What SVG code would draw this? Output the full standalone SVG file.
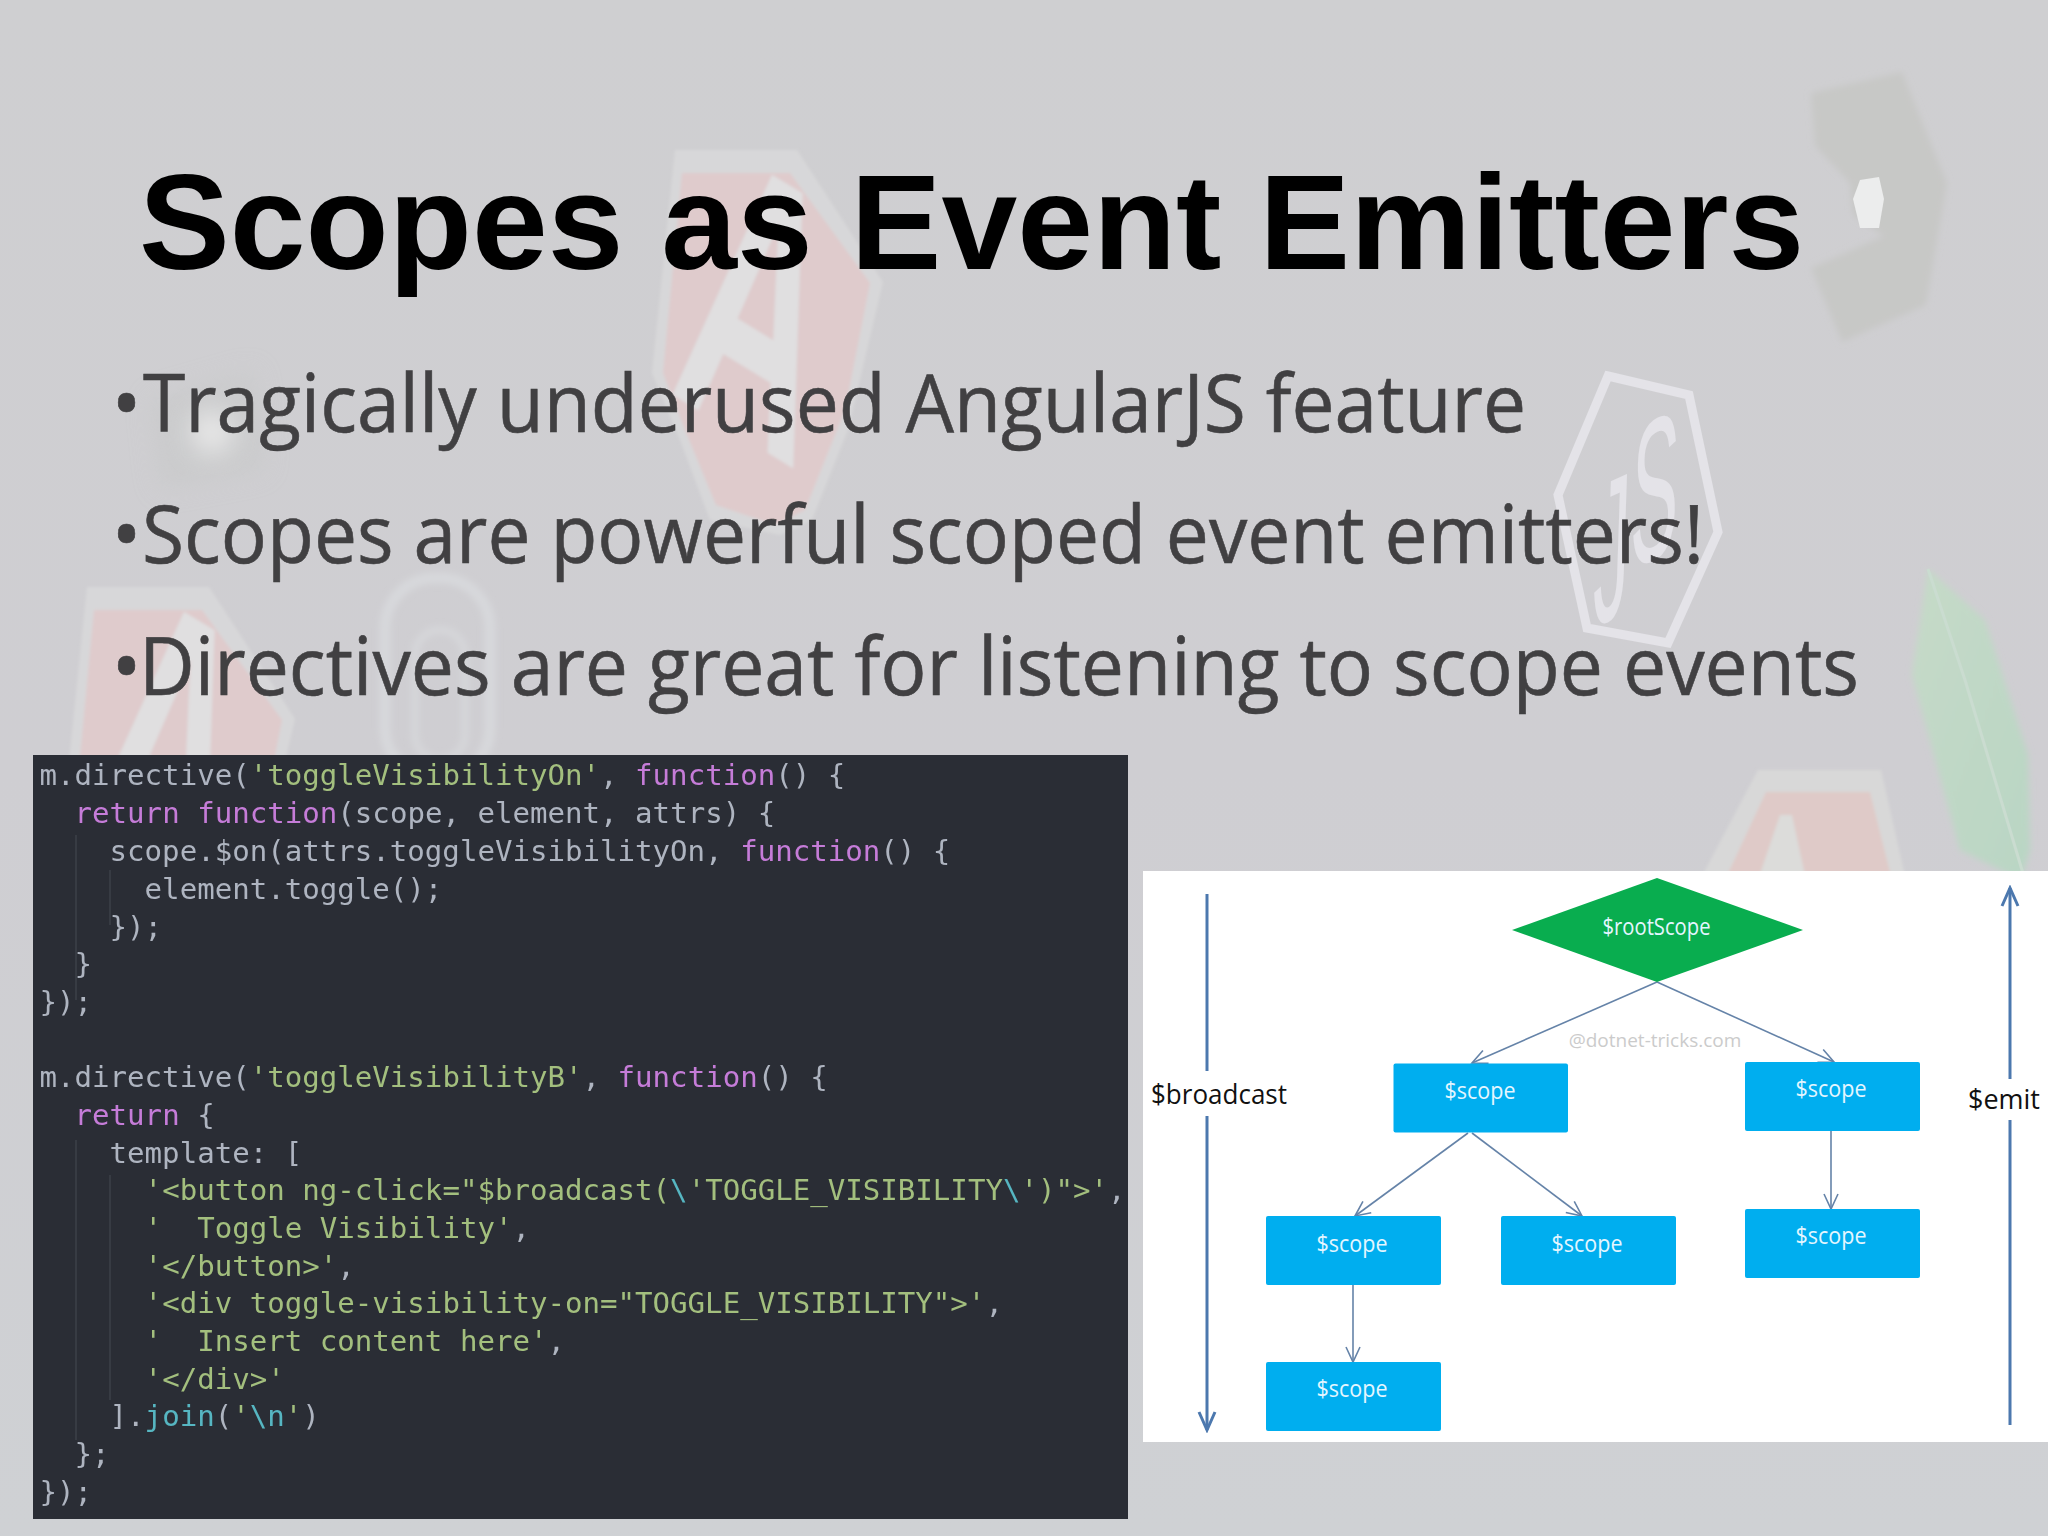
<svg xmlns="http://www.w3.org/2000/svg" width="2048" height="1536" viewBox="0 0 2048 1536">
<style>
.title{font:bold 136.2px "Liberation Sans",Arial,sans-serif;fill:#000}
.bul{font:80px "Open Sans","Noto Sans",sans-serif;fill:#414042;stroke:#414042;stroke-width:.6}
.code{font:29.1px "DejaVu Sans Mono",monospace;fill:#aeb4c0;white-space:pre}
.s{fill:#a3bf7e}.k{fill:#c57bd8}.f{fill:#56b6c2}
.guide{stroke:#3c4049;stroke-width:1.5}
.box{fill:#00aeef}
.lbl{font:23px "Open Sans","Noto Sans",sans-serif;fill:#e4f6ff;text-anchor:middle}
.side{font:27px "Open Sans","Noto Sans",sans-serif;fill:#111}
.thick{stroke:#4c78ae;stroke-width:3;fill:none}
.thin{stroke:#6583a8;stroke-width:1.6;fill:none}
.logo{font:bold 100px "Liberation Sans",Arial,sans-serif}
</style>
<defs>
<linearGradient id="bg" x1="0" y1="0" x2="0" y2="1"><stop offset="0" stop-color="#cfcfd1"/><stop offset=".5" stop-color="#cfced2"/><stop offset="1" stop-color="#cfd1d4"/></linearGradient>
<linearGradient id="leaf" x1="0" y1="0" x2="1" y2="1"><stop offset="0" stop-color="#c6dac8"/><stop offset="1" stop-color="#b9d6c4"/></linearGradient>
<filter id="b1" x="-5%" y="-5%" width="110%" height="110%"><feGaussianBlur stdDeviation="0.6"/></filter>
<filter id="b2" x="-10%" y="-10%" width="120%" height="120%"><feGaussianBlur stdDeviation="1.8"/></filter>
<filter id="b3" x="-20%" y="-20%" width="140%" height="140%"><feGaussianBlur stdDeviation="3"/></filter>
<filter id="b12" x="-50%" y="-50%" width="200%" height="200%"><feGaussianBlur stdDeviation="12"/></filter>
<marker id="vs" markerUnits="userSpaceOnUse" viewBox="0 0 20 20" refX="18" refY="10" markerWidth="20" markerHeight="20" orient="auto"><path d="M3 3L18 10L3 17" fill="none" stroke="#6583a8" stroke-width="1.6"/></marker>
<marker id="vb" markerUnits="userSpaceOnUse" viewBox="0 0 24 24" refX="21" refY="12" markerWidth="24" markerHeight="24" orient="auto"><path d="M3 4L21 12L3 20" fill="none" stroke="#4c78ae" stroke-width="3"/></marker>
<g id="shield" filter="url(#b2)">
<polygon points="675,150 797,150 883,282 848,430 812,520 780,535 710,520 680,440 652,373" fill="#d9d9db" opacity=".8"/>
<polygon points="682,173 790,173 870,283 845,410 805,510 775,525 716,505 685,430 663,373" fill="#dfcbcc"/>
<text class="logo" transform="matrix(1.8 1.1 -.79 3.6 668 392)" fill="#e0dfe0">A</text>
</g>
<clipPath id="above"><rect x="0" y="0" width="2048" height="755"/></clipPath>
<clipPath id="above2"><rect x="1143" y="0" width="905" height="871"/></clipPath>
</defs>

<g id="background">
<rect width="2048" height="1536" fill="url(#bg)"/>
<use href="#shield"/>
<g clip-path="url(#above)"><use href="#shield" x="-588" y="437"/></g>
<g clip-path="url(#above2)">
<g filter="url(#b2)">
<polygon points="1758,770 1881,770 1906,880 1700,880" fill="#d8d8d8"/>
<polygon points="1766,792 1870,792 1892,880 1725,880" fill="#dfcac8"/>
<polygon points="1780,815 1792,815 1806,880 1758,880" fill="#dcdcda"/>
</g>
<polygon points="1928,569 1985,620 2028,755 2030,850 2021,880 1960,850 1912,675" fill="url(#leaf)" filter="url(#b3)"/>
<path d="M1928,569L1965,680L2025,880" stroke="#cadcd0" stroke-width="3" fill="none" filter="url(#b1)"/>
</g>
<polygon points="1811,93 1902,72 1947,183 1926,305 1842,342 1811,268 1884,236 1853,215 1850,183 1815,146" fill="#c7c8c6" filter="url(#b3)"/>
<polygon points="1853,199 1860,180 1879,177 1884,199 1879,228 1860,228" fill="#eceded" filter="url(#b1)"/>
<g filter="url(#b1)">
<polygon points="1608,376 1689,395 1718,532 1668,643 1587,628 1558,495" fill="none" stroke="#e4e3e8" stroke-width="9"/>
<text transform="matrix(.65 -.3 -.06 1.85 1592 628)" style="font:110px 'Liberation Sans',Arial,sans-serif" fill="#e4e3e8">J<tspan dy="-22">S</tspan></text>
</g>
<g clip-path="url(#above)" filter="url(#b3)">
<rect x="385" y="578" width="105" height="200" rx="50" fill="none" stroke="#d7d8db" stroke-width="11"/>
<rect x="415" y="630" width="50" height="130" rx="25" fill="none" stroke="#d5d6d9" stroke-width="8"/>
</g>
<polygon points="150,400 255,370 265,470 160,490" fill="#c8c9c9" opacity=".6" filter="url(#b12)"/>
<ellipse cx="212" cy="432" rx="22" ry="22" fill="#e6e6e6" filter="url(#b12)"/>
</g>

<g id="title"><text class="title" x="139" y="269">Scopes as Event Emitters</text></g>
<g id="bullets">
<text class="bul" x="111.500" y="432">•</text><text class="bul" x="143" y="432" textLength="1383" lengthAdjust="spacingAndGlyphs">Tragically underused AngularJS feature</text>
<text class="bul" x="111.500" y="563">•</text><text class="bul" x="142" y="563" textLength="1562" lengthAdjust="spacingAndGlyphs">Scopes are powerful scoped event emitters!</text>
<text class="bul" x="111.500" y="695">•</text><text class="bul" x="139" y="695" textLength="1720" lengthAdjust="spacingAndGlyphs">Directives are great for listening to scope events</text>
</g>

<g id="code-panel">
<rect x="33" y="755" width="1095" height="764" fill="#2a2d35"/>
<g id="code-guides">
<line class="guide" x1="76" y1="835" x2="76" y2="1000"/>
<line class="guide" x1="110" y1="870" x2="110" y2="925"/>
<line class="guide" x1="76" y1="1140" x2="76" y2="1440"/>
<line class="guide" x1="110" y1="1175" x2="110" y2="1400"/>
</g>
<g filter="url(#b1)">
<text class="code" x="39.500" y="785">m.directive(<tspan class="s">'toggleVisibilityOn'</tspan>, <tspan class="k">function</tspan>() {</text>
<text class="code" x="39.500" y="823">  <tspan class="k">return</tspan> <tspan class="k">function</tspan>(scope, element, attrs) {</text>
<text class="code" x="39.500" y="861">    scope.$on(attrs.toggleVisibilityOn, <tspan class="k">function</tspan>() {</text>
<text class="code" x="39.500" y="899">      element.toggle();</text>
<text class="code" x="39.500" y="936.500">    });</text>
<text class="code" x="39.500" y="974">  }</text>
<text class="code" x="39.500" y="1012">});</text>
<text class="code" x="39.500" y="1087">m.directive(<tspan class="s">'toggleVisibilityB'</tspan>, <tspan class="k">function</tspan>() {</text>
<text class="code" x="39.500" y="1125">  <tspan class="k">return</tspan> {</text>
<text class="code" x="39.500" y="1163">    template: [</text>
<text class="code" x="39.500" y="1200">      <tspan class="s">'&lt;button ng-click="$broadcast(</tspan><tspan class="f">\</tspan><tspan class="s">'TOGGLE_VISIBILITY</tspan><tspan class="f">\</tspan><tspan class="s">')"&gt;'</tspan>,</text>
<text class="code" x="39.500" y="1238">      <tspan class="s">'  Toggle Visibility'</tspan>,</text>
<text class="code" x="39.500" y="1275.500">      <tspan class="s">'&lt;/button&gt;'</tspan>,</text>
<text class="code" x="39.500" y="1313">      <tspan class="s">'&lt;div toggle-visibility-on="TOGGLE_VISIBILITY"&gt;'</tspan>,</text>
<text class="code" x="39.500" y="1351">      <tspan class="s">'  Insert content here'</tspan>,</text>
<text class="code" x="39.500" y="1388.500">      <tspan class="s">'&lt;/div&gt;'</tspan></text>
<text class="code" x="39.500" y="1426">    ].<tspan class="f">join</tspan>(<tspan class="s">'</tspan><tspan class="f">\n</tspan><tspan class="s">'</tspan>)</text>
<text class="code" x="39.500" y="1464">  };</text>
<text class="code" x="39.500" y="1502">});</text>
</g>
</g>

<rect id="diagram-panel" x="1143" y="871" width="905" height="571" fill="#fff"/>

<g id="connectors">
<line class="thin" x1="1657" y1="982" x2="1472" y2="1063" marker-end="url(#vs)"/>
<line class="thin" x1="1657" y1="982" x2="1834" y2="1062" marker-end="url(#vs)"/>
<line class="thin" x1="1468" y1="1133" x2="1355" y2="1216" marker-end="url(#vs)"/>
<line class="thin" x1="1472" y1="1133" x2="1582" y2="1216" marker-end="url(#vs)"/>
<line class="thin" x1="1831" y1="1131" x2="1831" y2="1209" marker-end="url(#vs)"/>
<line class="thin" x1="1353" y1="1285" x2="1353" y2="1362" marker-end="url(#vs)"/>
<line class="thick" x1="1207" y1="894" x2="1207" y2="1071"/>
<line class="thick" x1="1207" y1="1116" x2="1207" y2="1430" marker-end="url(#vb)"/>
<line class="thick" x1="2010" y1="1425" x2="2010" y2="1120"/>
<line class="thick" x1="2010" y1="1079" x2="2010" y2="888" marker-end="url(#vb)"/>
</g>

<g id="rootScope"><polygon points="1512,930 1657,878 1803,930 1657,982" fill="#09ad4f"/><text class="lbl" x="1656.500" y="935" textLength="108" lengthAdjust="spacingAndGlyphs">$rootScope</text></g>
<g id="scope-a"><rect class="box" x="1393.500" y="1063.500" width="174.500" height="69" rx="2"/><text class="lbl" x="1480" y="1099" textLength="71" lengthAdjust="spacingAndGlyphs">$scope</text></g>
<g id="scope-b"><rect class="box" x="1745" y="1062" width="175" height="69" rx="2"/><text class="lbl" x="1831" y="1097" textLength="71" lengthAdjust="spacingAndGlyphs">$scope</text></g>
<g id="scope-c"><rect class="box" x="1266" y="1216" width="175" height="69" rx="2"/><text class="lbl" x="1352" y="1252" textLength="71" lengthAdjust="spacingAndGlyphs">$scope</text></g>
<g id="scope-d"><rect class="box" x="1501" y="1216" width="175" height="69" rx="2"/><text class="lbl" x="1587" y="1252" textLength="71" lengthAdjust="spacingAndGlyphs">$scope</text></g>
<g id="scope-e"><rect class="box" x="1745" y="1209" width="175" height="69" rx="2"/><text class="lbl" x="1831" y="1244" textLength="71" lengthAdjust="spacingAndGlyphs">$scope</text></g>
<g id="scope-f"><rect class="box" x="1266" y="1362" width="175" height="69" rx="2"/><text class="lbl" x="1352" y="1397" textLength="71" lengthAdjust="spacingAndGlyphs">$scope</text></g>
<g id="labels">
<text class="side" x="1151" y="1104" textLength="136" lengthAdjust="spacingAndGlyphs">$broadcast</text>
<text class="side" x="1968" y="1109" textLength="72" lengthAdjust="spacingAndGlyphs">$emit</text>
<text x="1655" y="1047" style="font:19px 'Open Sans','Noto Sans',sans-serif;fill:#cbcbcb;text-anchor:middle">@dotnet-tricks.com</text>
</g>
</svg>
